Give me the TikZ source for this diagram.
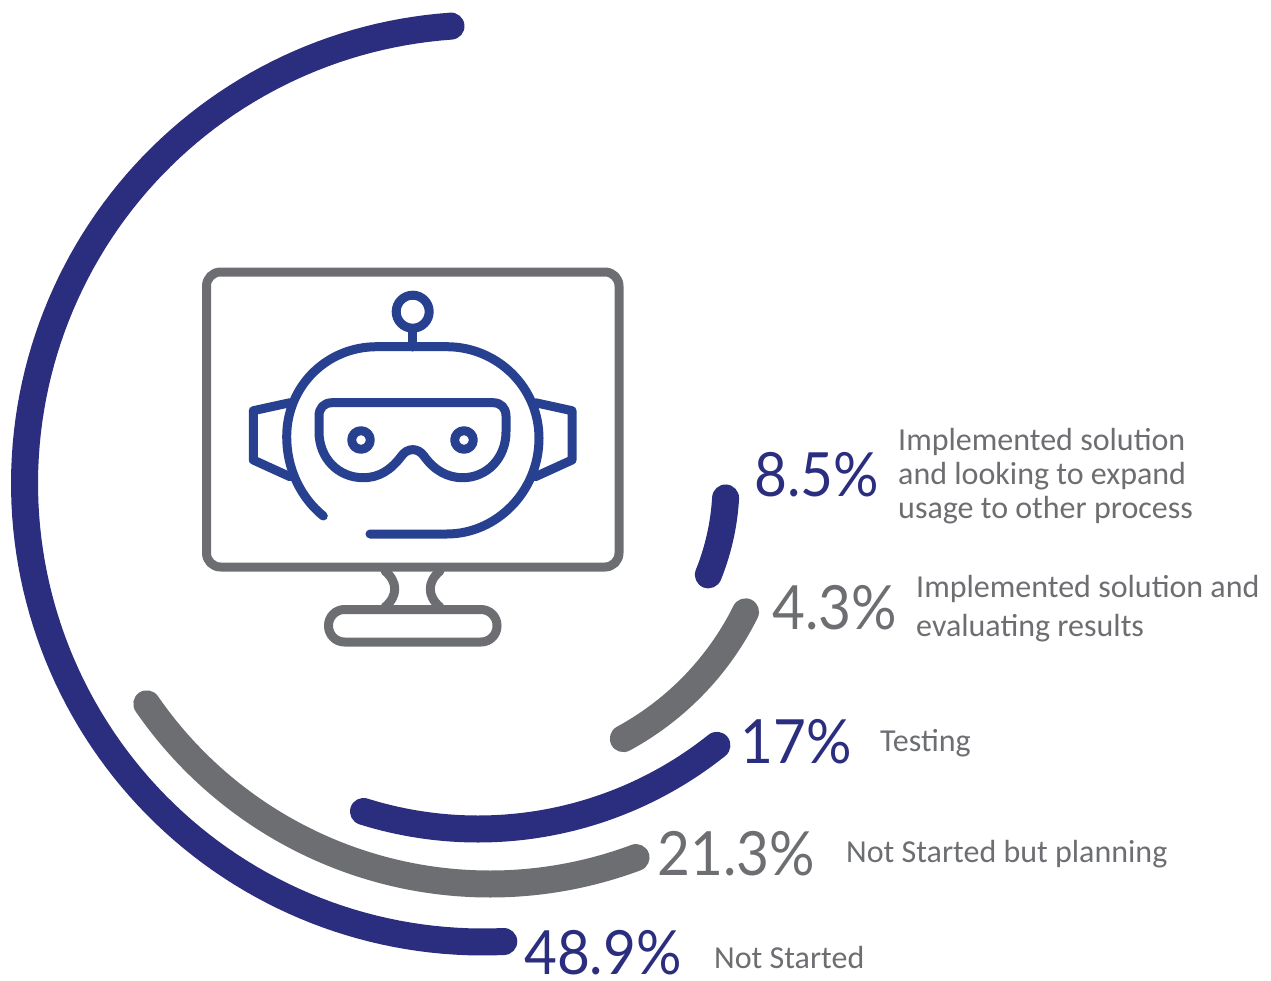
\documentclass[tikz,border=0pt]{standalone}
\usepackage{fontspec}
\setmainfont{Carlito}
\newfontfamily\pctfont{Lato}
\definecolor{navy}{HTML}{2B2E7E}
\definecolor{slate}{HTML}{6D6E71}
\definecolor{robot}{HTML}{27408F}
\tikzset{
  ring/.style={line width=27pt,line cap=round},
  mon/.style={draw=slate,line width=9pt,line join=round,line cap=round},
  bot/.style={draw=robot,line width=9pt,line join=round,line cap=round},
  pct/.style={inner sep=0pt,anchor=base west,xscale=.93,transform shape,font=\pctfont\fontsize{61}{62}\selectfont},
  lab/.style={inner sep=0pt,anchor=west,align=left,text=slate,font=\fontsize{32}{34}\selectfont},
}
\newcommand{\ringarc}[6]{\draw[ring,#1] plot[domain=#2:#3,samples=120] ({#5+#4*cos(\x)},{#6+#4*sin(\x)});}
\begin{document}
\begin{tikzpicture}[x=1pt,y=-1pt]
\useasboundingbox (0,0) rectangle (1271,980);
% rings
\ringarc{navy}{266}{87.4}{458.5}{483}{483.5}
\ringarc{slate}{145.4}{69.5}{417}{490}{467}
\ringarc{navy}{107.4}{51.4}{383}{478}{446}
\ringarc{slate}{61.5}{26.4}{292}{484}{482}
\ringarc{navy}{22}{3.3}{242.5}{483.5}{484}
% monitor
\draw[mon,rounded corners=14pt] (206.5,272) rectangle (619,567);
\draw[mon,rounded corners=16pt] (328.5,609.5) rectangle (497,642);
\draw[mon] (385,571) .. controls (398,582) and (398,596) .. (385,607);
\draw[mon] (440,571) .. controls (427,582) and (427,596) .. (440,607);
% robot
\draw[bot] (412.7,311.7) circle (16.5);
\draw[bot] (412.7,331) -- (412.7,347);
\draw[bot] (323.3,516) .. controls (300,497) and (286.7,468) .. (286.7,436.7)
  .. controls (286.7,386) and (327,346.7) .. (376.7,346.7) -- (446.7,346.7)
  .. controls (497,346.7) and (539,387) .. (539,438.3)
  .. controls (539,491) and (497,534) .. (446.7,534) -- (370,534);
\draw[bot] (290,402.7) -- (253.3,410.7) -- (253.3,460) -- (290,476.7);
\draw[bot] (535.4,402.7) -- (572,410.7) -- (572,460) -- (535.4,476.7);
\draw[bot] (332,402.7) -- (493,402.7) .. controls (501,402.7) and (506,408) .. (506,416)
  -- (506,431.7) .. controls (506,458) and (487,477.7) .. (462.7,477.7)
  .. controls (447,477.7) and (434,470) .. (424,456)
  .. controls (418,447.5) and (407.5,447.5) .. (401.5,456)
  .. controls (391,470) and (379,477.7) .. (363.3,477.7)
  .. controls (338,477.7) and (319,458) .. (319,431.7)
  -- (319,416) .. controls (319,408) and (324,402.7) .. (332,402.7) -- cycle;
\draw[bot] (361,440) circle (9.3);
\draw[bot] (464,440) circle (9.3);
% percentages
\node[pct,text=navy] (p1) at (754,496) {8.5\%};
\node[pct,text=slate] (p2) at (772,629) {4.3\%};
\node[pct,text=navy] (p3) at (740,763) {17\%};
\node[pct,text=slate] (p4) at (657,875) {21.3\%};
\node[pct,text=navy] (p5) at (524,974) {48.9\%};
% labels
\node[lab] (l1) at (898,476.5) {Implemented solution\\and looking to expand\\usage to other process};
\node[lab,font=\fontsize{32}{39}\selectfont] (l2) at (916,608.5) {Implemented solution and\\evaluating results};
\node[lab] (l3) at (880,743) {Testing};
\node[lab] (l4) at (846,854.5) {Not Started but planning};
\node[lab] (l5) at (714,957) {Not Started};
\end{tikzpicture}
\end{document}
